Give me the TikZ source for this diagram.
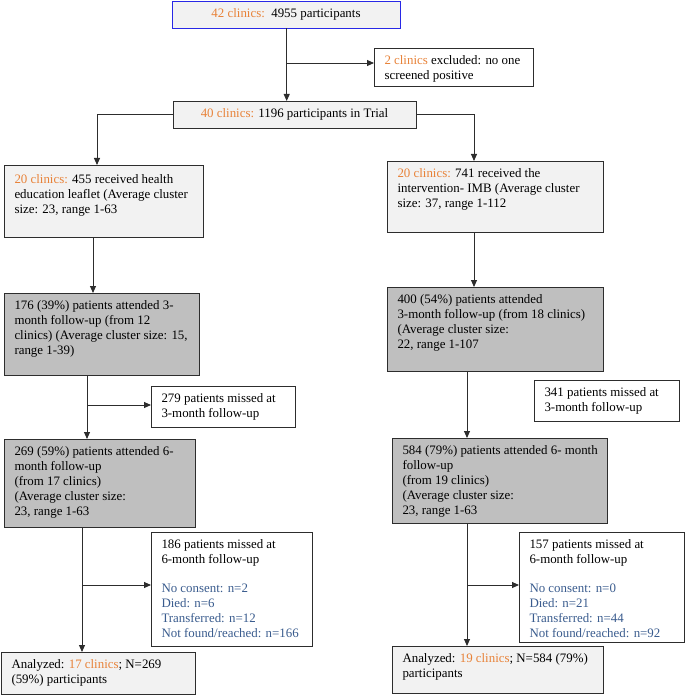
\documentclass[tikz,border=0pt]{standalone}
\usepackage{fontspec}
\setmainfont{Liberation Serif}
\usetikzlibrary{arrows.meta}
\definecolor{orng}{RGB}{232,130,56}
\definecolor{dblue}{RGB}{58,92,142}
\definecolor{lightg}{RGB}{242,242,242}
\definecolor{darkg}{RGB}{191,191,191}
\definecolor{topblue}{RGB}{40,40,230}
\definecolor{edge}{RGB}{45,45,45}
\newcommand{\co}[1]{\textcolor{orng}{#1}}
\newcommand{\bl}[1]{\textcolor{dblue}{#1}}
\newcommand{\tbx}[4][0pt]{\parbox[c][\dimexpr#3pt-11pt\relax][t]{\dimexpr#2pt-21pt\relax}{\vspace*{#1}\noindent\begin{tabular}[t]{@{}l@{}}#4\end{tabular}}}
\begin{document}
\begin{tikzpicture}[x=1pt,y=-1pt,font=\fontsize{12.9}{15.2}\selectfont,
  box/.style={draw=edge,line width=0.9pt,anchor=north west,inner xsep=10.5pt,inner ysep=5.5pt,outer sep=0pt},
  lightbox/.style={box,fill=lightg},
  darkbox/.style={box,fill=darkg},
  plainbox/.style={box,fill=white},
  arr/.style={draw=edge,line width=0.9pt,-{Triangle[length=7pt,width=6pt]}}]
\useasboundingbox (0,0) rectangle (685,695);

\node[lightbox,draw=topblue,inner sep=0pt,minimum width=228pt,minimum height=27pt] (A) at (172,1) {\co{42 clinics:}\ \ 4955 participants};
\node[plainbox,minimum width=159pt,minimum height=38pt] (B) at (374,48) {\tbx{159}{38}{\co{2 clinics} excluded: no one\\screened positive}};
\node[lightbox,inner sep=0pt,minimum width=243pt,minimum height=27pt] (C) at (173,101) {\co{40 clinics:} 1196 participants in Trial};

\node[lightbox,minimum width=199pt,minimum height=72pt] (L1) at (4,165) {\tbx[2pt]{199}{72}{\co{20 clinics:} 455 received health\\education leaflet (Average cluster\\size: 23, range 1-63}};
\node[lightbox,minimum width=216pt,minimum height=71pt] (R1) at (387,161) {\tbx{216}{71}{\co{20 clinics:} 741 received the\\intervention- IMB (Average cluster\\size: 37, range 1-112}};

\node[darkbox,minimum width=195pt,minimum height=82pt] (L2) at (4,293) {\tbx{195}{82}{176 (39\%) patients attended 3-\\month follow-up (from 12\\clinics) (Average cluster size: 15,\\range 1-39)}};
\node[darkbox,minimum width=216pt,minimum height=84pt] (R2) at (387,287) {\tbx{216}{84}{400 (54\%) patients attended\\3-month follow-up (from 18 clinics)\\(Average cluster size:\\22, range 1-107}};

\node[plainbox,minimum width=144pt,minimum height=41pt] (L279) at (151,386) {\tbx{144}{41}{279 patients missed at\\3-month follow-up}};
\node[plainbox,minimum width=145pt,minimum height=41pt] (R341) at (534,380) {\tbx{145}{41}{341 patients missed at\\3-month follow-up}};

\node[darkbox,minimum width=191pt,minimum height=88pt] (L3) at (4,439) {\tbx{191}{88}{269 (59\%) patients attended 6-\\month follow-up\\(from 17 clinics)\\(Average cluster size:\\23, range 1-63}};
\node[darkbox,minimum width=215pt,minimum height=85pt] (R3) at (392,438) {\tbx{215}{85}{584 (79\%) patients attended 6- month\\follow-up\\(from 19 clinics)\\(Average cluster size:\\23, range 1-63}};

\node[plainbox,minimum width=161pt,minimum height=114pt] (L186) at (151,532) {\tbx{161}{114}{186 patients missed at\\6-month follow-up\\[13.5pt]\bl{No consent: n=2}\\\bl{Died: n=6}\\\bl{Transferred: n=12}\\\bl{Not found/reached: n=166}}};
\node[plainbox,minimum width=165pt,minimum height=110pt] (R157) at (519,532) {\tbx{165}{110}{157 patients missed at\\6-month follow-up\\[13.5pt]\bl{No consent: n=0}\\\bl{Died: n=21}\\\bl{Transferred: n=44}\\\bl{Not found/reached: n=92}}};

\node[lightbox,minimum width=194pt,minimum height=42pt] (LA) at (1,652) {\tbx{194}{42}{Analyzed: \co{17 clinics}; N=269\\(59\%) participants}};
\node[lightbox,minimum width=211pt,minimum height=47pt] (RA) at (392,646) {\tbx{211}{47}{Analyzed: \co{19 clinics}; N=584 (79\%)\\participants}};

\coordinate (jA) at (286.7,63);
\draw[arr] (A.south -| jA) -- (C.north -| jA);
\draw[arr] (jA) -- (jA -| B.west);

\coordinate (cL) at (97,0);
\coordinate (cR) at (474,0);
\draw[arr] (C.west) -| (L1.north -| cL);
\draw[arr] (C.east) -| (R1.north -| cR);

\coordinate (c1) at (93,0);
\draw[arr] (L1.south -| c1) -- (L2.north -| c1);
\coordinate (c2) at (474,0);
\draw[arr] (R1.south -| c2) -- (R2.north -| c2);

\coordinate (c3) at (87,405);
\draw[arr] (L2.south -| c3) -- (L3.north -| c3);
\draw[arr] (c3) -- (c3 -| L279.west);
\coordinate (c4) at (467,0);
\draw[arr] (R2.south -| c4) -- (R3.north -| c4);

\coordinate (c5) at (82,585);
\draw[arr] (L3.south -| c5) -- (LA.north -| c5);
\draw[arr] (c5) -- (c5 -| L186.west);
\coordinate (c6) at (467,585);
\draw[arr] (R3.south -| c6) -- (RA.north -| c6);
\draw[arr] (c6) -- (c6 -| R157.west);
\end{tikzpicture}
\end{document}
